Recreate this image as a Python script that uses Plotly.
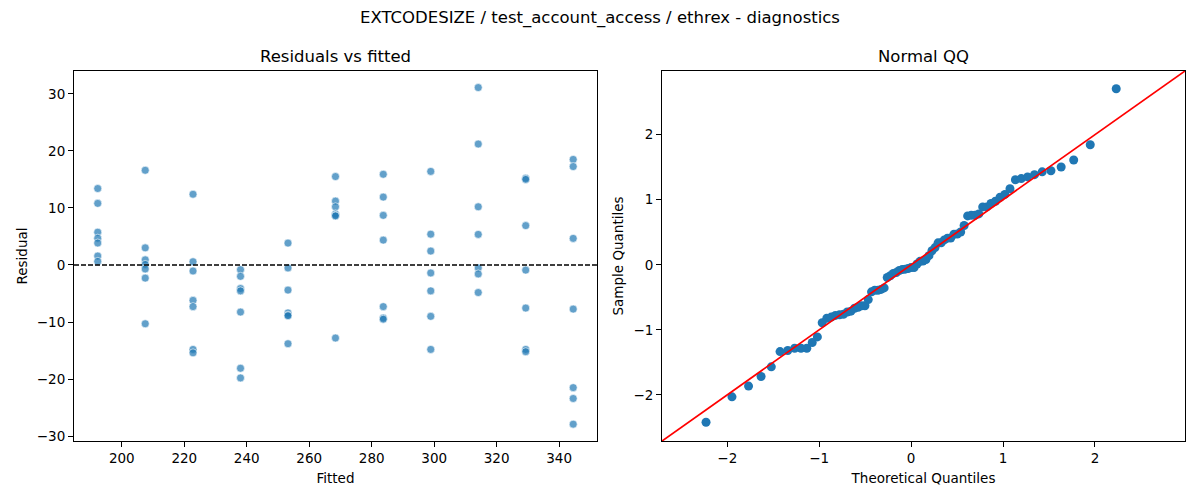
"""
Diagnose-Plots (Residuen gegen Fitted und Normal-QQ) für EXTCODESIZE / test_account_access / ethrex
"""

from statistics import NormalDist, mean, stdev

import plotly.graph_objects as go
from plotly.subplots import make_subplots

# gefittete Werte (eine Gruppe pro Stufe)
fitted_levels = [192.3, 207.5, 222.8, 238.0, 253.2, 268.4, 283.7, 298.9, 314.1, 329.3, 344.5]

# Residuen pro gefittetem Wert
resid_192 = [13.4, 10.8, 5.75, 4.7, 3.85, 1.57, 0.63]
resid_207 = [16.6, 3.0, 0.9, 0.1, -0.7, -2.3, -10.3]
resid_222 = [12.4, 0.57, -1.05, -6.2, -7.3, -14.8, -15.4]
resid_238 = [-0.82, -1.99, -4.13, -4.54, -8.25, -18.1, -19.8]
resid_253 = [3.84, -0.52, -4.4, -8.4, -8.8, -8.9, -13.8]
resid_268 = [15.5, 11.2, 10.2, 8.95, 8.7, 8.6, -12.8]
resid_283 = [15.9, 11.9, 8.7, 4.36, -7.3, -9.3, -9.5]
resid_298 = [16.4, 5.4, 2.44, -1.4, -4.54, -9.0, -14.8]
resid_314 = [31.1, 21.2, 10.2, 5.36, -0.52, -1.57, -4.83]
resid_329 = [15.2, 15.0, 6.9, -0.9, -7.55, -14.8, -15.2]
resid_344 = [18.5, 17.25, 4.66, -7.73, -21.5, -23.4, -27.9]

resid_groups = [resid_192, resid_207, resid_222, resid_238, resid_253, resid_268,
                resid_283, resid_298, resid_314, resid_329, resid_344]

fitted = []
residuals = []
for f, grp in zip(fitted_levels, resid_groups):
    for r in grp:
        fitted.append(f)
        residuals.append(r)

# QQ: standardisierte Residuen gegen Normal-Quantile (Plotting-Positionen i/(n+1))
m = mean(residuals)
s = stdev(residuals)
sample_q = sorted((r - m) / s for r in residuals)
n = len(sample_q)
theo_q = [NormalDist().inv_cdf(i / (n + 1)) for i in range(1, n + 1)]

fig = make_subplots(rows=1, cols=2, horizontal_spacing=0.0586)

fig.add_trace(go.Scatter(x=fitted, y=residuals, mode='markers',
                         marker=dict(size=8, color='rgba(31,119,180,0.7)',
                                     line=dict(color='white', width=0.6)),
                         showlegend=False), row=1, col=1)

fig.add_trace(go.Scatter(x=theo_q, y=sample_q, mode='markers',
                         marker=dict(size=9, color='#1f77b4'),
                         showlegend=False), row=1, col=2)

qq_range = [-2.71, 2.98]
fig.add_shape(type='line', x0=qq_range[0], y0=qq_range[0], x1=qq_range[1], y1=qq_range[1],
              xref='x2', yref='y2', line=dict(color='red', width=1.7))
fig.add_shape(type='line', x0=0, x1=1, y0=0, y1=0, xref='x domain', yref='y', layer='above',
              line=dict(color='black', width=1.3, dash='5px,2px'))

axis_style = dict(showline=True, mirror=True, linecolor='black', linewidth=1,
                  ticks='outside', ticklen=5, tickcolor='black', showgrid=False,
                  zeroline=False, tickfont=dict(size=13.5, color='black'),
                  title_font=dict(size=13.5, color='black'))

fig.update_xaxes(axis_style)
fig.update_yaxes(axis_style)
fig.update_xaxes(range=[184.7, 352.1], dtick=20, title_text='Fitted', title_standoff=8, row=1, col=1)
fig.update_yaxes(range=[-30.85, 34.0], dtick=10, title_text='Residual', title_standoff=6, row=1, col=1)
fig.update_xaxes(range=qq_range, dtick=1, title_text='Theoretical Quantiles', title_standoff=8, row=1, col=2)
fig.update_yaxes(range=qq_range, dtick=1, title_text='Sample Quantiles', title_standoff=6, row=1, col=2)

# Gesamttitel in der Mitte der Figur, nicht des Plotbereichs
fig.add_annotation(text='EXTCODESIZE / test_account_access / ethrex - diagnostics', x=0.4734, y=1,
                   xref='paper', yref='paper', xanchor='center', yanchor='middle', yshift=53,
                   showarrow=False, font=dict(size=16.5, color='black'))
fig.add_annotation(text='Residuals vs fitted', x=0.2354, y=1, xref='paper', yref='paper',
                   xanchor='center', yanchor='middle', yshift=15, showarrow=False,
                   font=dict(size=16.5, color='black'))
fig.add_annotation(text='Normal QQ', x=0.7646, y=1, xref='paper', yref='paper',
                   xanchor='center', yanchor='middle', yshift=15, showarrow=False,
                   font=dict(size=16.5, color='black'))

# die Seite hat 8px Rand, daher etwas kleiner
fig.update_layout(width=1192, height=492, plot_bgcolor='white', paper_bgcolor='white',
                  margin=dict(l=66, r=15, t=63, b=59),
                  font=dict(family='DejaVu Sans', color='black'))

fig.write_html("out.html")
